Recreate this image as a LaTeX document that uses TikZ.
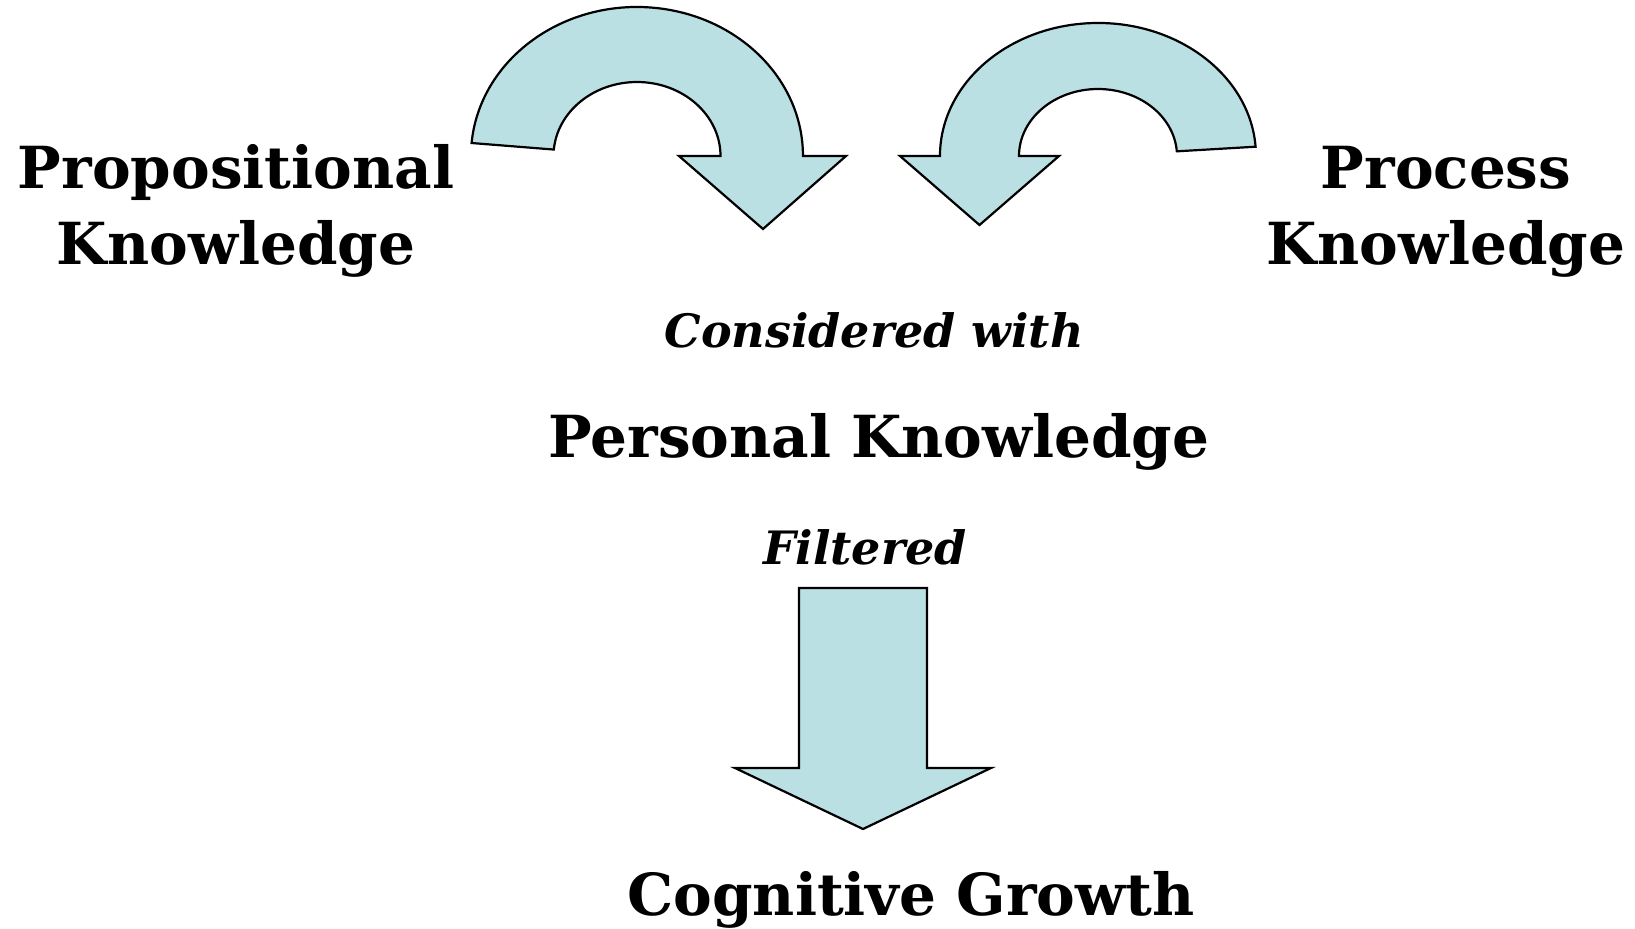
\documentclass[tikz,border=0pt]{standalone}
\usepackage{fontspec}
\setmainfont{DejaVu Serif}
\usepackage{tikz}
\usetikzlibrary{calc}
\definecolor{arrowblue}{RGB}{187,224,227}

\begin{document}
\begin{tikzpicture}[x=0.5pt,y=0.5pt,font=\bfseries]
      \tikzstyle{big label}=[inner sep=0,anchor=base,align=center,font=\fontsize{29}{38}\selectfont\bfseries]
      \tikzstyle{small label}=[inner sep=0,anchor=base,font=\fontsize{23}{30}\selectfont\bfseries\itshape]
      \tikzstyle{block arrow}=[draw=black,line width=1.1pt,fill=arrowblue,line join=miter]
      \useasboundingbox (0,0) rectangle (1635,-928);

      % the two curved arrows
      \draw[block arrow] (471.6,-143) arc[start angle=175,end angle=0,x radius=83pt,y radius=74.5pt]
          -- (846,-156) -- (763,-229) -- (679,-156) -- (720.5,-156)
          arc[start angle=0,end angle=175,x radius=41.75pt,y radius=37pt] -- cycle;
      \draw[block arrow] (1255.6,-146.7) arc[start angle=4,end angle=180,x radius=79pt,y radius=66.5pt]
          -- (900,-156) -- (979.5,-225) -- (1059,-156) -- (1019,-156)
          arc[start angle=180,end angle=4,x radius=39.5pt,y radius=33.5pt] -- cycle;

      % the straight arrow
      \draw[block arrow] (799,-588) -- (927,-588) -- (927,-768) -- (991,-768)
          -- (863,-829) -- (735,-768) -- (799,-768) -- cycle;

      \node(prop)[big label] at (236,-264) {Propositional\\Knowledge};
      \node(proc)[big label] at (1446,-264) {Process\\Knowledge};
      \node(with)[small label] at (874,-347) {Considered with};
      \node(pers)[big label] at (879,-457) {Personal Knowledge};
      \node(filt)[small label] at (865,-564) {Filtered};
      \node(grow)[big label] at (911,-915) {Cognitive Growth};
\end{tikzpicture}
\end{document}
